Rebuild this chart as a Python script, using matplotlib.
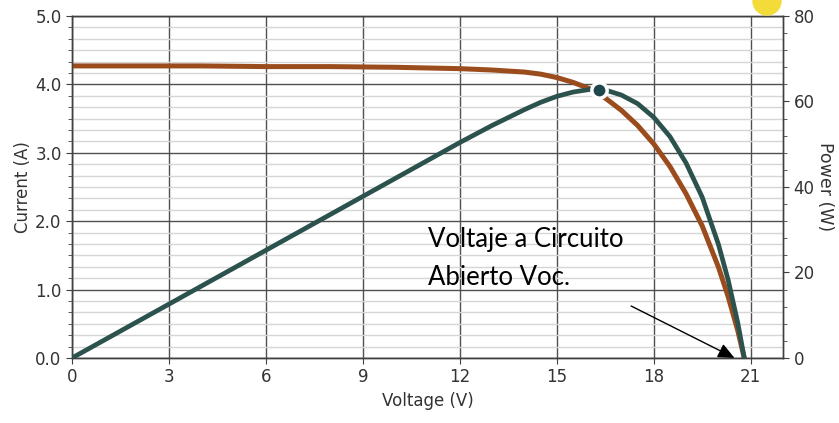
import matplotlib
matplotlib.use("Agg")
import matplotlib.pyplot as plt
from matplotlib.ticker import MultipleLocator
from matplotlib.patches import Ellipse

# curva I-V y P-V del panel
voltaje = [0, 2, 4, 6, 8, 10, 11, 12, 13, 14, 14.5, 15, 15.5, 16, 16.3,
           16.5, 17, 17.5, 18, 18.5, 19, 19.5, 20, 20.3, 20.6, 20.8]
corriente = [4.27, 4.27, 4.27, 4.26, 4.26, 4.25, 4.24, 4.23, 4.21, 4.18, 4.15,
             4.10, 4.03, 3.94, 3.86, 3.80, 3.62, 3.40, 3.13, 2.80, 2.40, 1.93,
             1.33, 0.90, 0.40, 0.0]
potencia = [0, 8.4, 16.8, 25.2, 33.6, 42.0, 46.2, 50.4, 54.4, 58.1, 59.8,
            61.2, 62.2, 62.8, 62.9, 62.7, 61.5, 59.5, 56.3, 51.8, 45.6, 37.6,
            26.6, 18.3, 8.2, 0.0]
v_mpp, p_mpp = 16.3, 62.6
v_oc = 20.7

x_ticks = [0, 3, 6, 9, 12, 15, 18, 21]

color_i = '#9b4c1c'
color_p = '#2c524e'
txt = '#333333'

fig = plt.figure(figsize=(8.39, 4.23), dpi=100)
ax = fig.add_axes([0.0858, 0.1537, 0.8475, 0.8085])
ax2 = ax.twinx()

ax.set_xlim(0, 22)
ax.set_ylim(0, 5)
ax2.set_ylim(0, 80)

ax.set_xticks(x_ticks)
ax.yaxis.set_major_locator(MultipleLocator(1.0))
ax.yaxis.set_minor_locator(MultipleLocator(1 / 6))
ax2.yaxis.set_major_locator(MultipleLocator(20))
ax2.yaxis.set_minor_locator(MultipleLocator(4))
ax.set_yticklabels([f'{v:.1f}' for v in ax.get_yticks()])

ax.grid(which='major', color='#505050', lw=1.0)
ax.grid(which='minor', axis='y', color='#d6d6d6', lw=1.0)
ax.set_axisbelow(True)

for a in (ax, ax2):
    for s in a.spines.values():
        s.set_color('#404040')
        s.set_linewidth(1.0)
    a.tick_params(which='both', colors='#404040', labelcolor=txt, labelsize=12)
    a.tick_params(which='major', length=4)
    a.tick_params(which='minor', length=3)

ax.plot(voltaje, corriente, color=color_i, lw=3.6, solid_capstyle='round', zorder=3)
ax2.plot(voltaje, potencia, color=color_p, lw=3.4, solid_capstyle='round', zorder=3)
ax2.plot([v_mpp], [p_mpp], 'o', ms=11, mfc='#1f474b', mec='white', mew=2.5, zorder=5)

ax.set_xlabel('Voltage (V)', fontsize=12, color=txt, labelpad=4)
ax.set_ylabel('Current (A)', fontsize=12, color=txt, labelpad=2)
ax2.set_ylabel('Power (W)', fontsize=12.5, color=txt, rotation=270, labelpad=14)

nota = dict(fontsize=18.5, family=['Lato', 'DejaVu Sans'], weight='normal',
            color='black', va='baseline', ha='left', zorder=6)
ax.text(11.02, 1.62, 'Voltaje a Circuito', **nota)
ax.text(11.02, 1.07, 'Abierto Voc.', **nota)
ax.annotate('', xy=(v_oc - 0.2, 0.0), xytext=(17.3, 0.76),
            arrowprops=dict(arrowstyle='-|>,head_length=1.0,head_width=0.45',
                            color='black', lw=1.0, shrinkA=0, shrinkB=0),
            annotation_clip=False, zorder=6)

# pequeño círculo amarillo recortado en la esquina superior
fig.patches.append(Ellipse((767 / 839, 1 - 1 / 423), 28 / 839, 28 / 423,
                           transform=fig.transFigure, color='#f3dc3a',
                           zorder=10))

fig.savefig('out.png', dpi=100)
